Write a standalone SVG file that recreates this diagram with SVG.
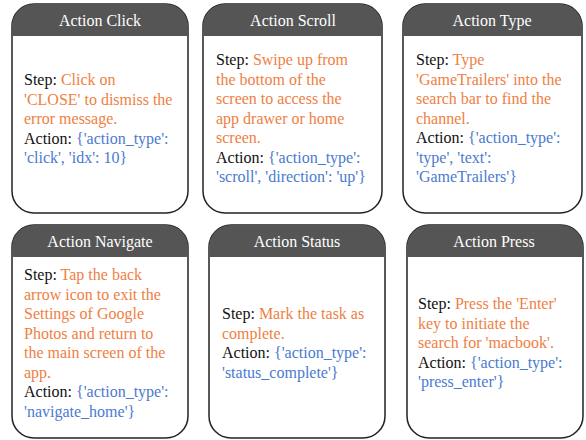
<svg xmlns="http://www.w3.org/2000/svg" width="586" height="440" viewBox="0 0 586 440">
<style>
.card{fill:#fff;stroke:#222;stroke-width:1.5}
.hdr{fill:#555}
.ttl{font-family:"Liberation Serif",serif;font-size:16px;fill:#fff;text-anchor:middle}
.body{font-family:"Liberation Serif",serif;font-size:16px}
.k{fill:#111}
.o{fill:#EF8043}
.b{fill:#4A7BD0}
</style>
<rect width="586" height="440" fill="#fff"/>
<g id="connectors"></g>
<g id="node-click">
<rect class="card" x="12" y="4" width="176" height="209" rx="22"/>
<path class="hdr" d="M12 36 V26 A22 22 0 0 1 34 4 H166 A22 22 0 0 1 188 26 V36 Z"/>
<text class="ttl" x="100" y="26">Action Click</text>
<text class="body" x="24" y="85"><tspan class="k">Step: </tspan><tspan class="o">Click on</tspan><tspan class="o" x="24" dy="19.5">'CLOSE' to dismiss the</tspan><tspan class="o" x="24" dy="19.5">error message.</tspan><tspan class="k" x="24" dy="19.5">Action: </tspan><tspan class="b">{'action_type':</tspan><tspan class="b" x="24" dy="19.5">'click', 'idx': 10}</tspan></text>
</g>
<g id="node-scroll">
<rect class="card" x="203" y="4" width="179" height="209" rx="22"/>
<path class="hdr" d="M203 36 V26 A22 22 0 0 1 225 4 H360 A22 22 0 0 1 382 26 V36 Z"/>
<text class="ttl" x="293" y="26">Action Scroll</text>
<text class="body" x="216" y="65"><tspan class="k">Step: </tspan><tspan class="o">Swipe up from</tspan><tspan class="o" x="216" dy="19.5">the bottom of the</tspan><tspan class="o" x="216" dy="19.5">screen to access the</tspan><tspan class="o" x="216" dy="19.5">app drawer or home</tspan><tspan class="o" x="216" dy="19.5">screen.</tspan><tspan class="k" x="216" dy="19.5">Action: </tspan><tspan class="b">{'action_type':</tspan><tspan class="b" x="216" dy="19.5">'scroll', 'direction': 'up'}</tspan></text>
</g>
<g id="node-type">
<rect class="card" x="403" y="4" width="179" height="209" rx="22"/>
<path class="hdr" d="M403 36 V26 A22 22 0 0 1 425 4 H560 A22 22 0 0 1 582 26 V36 Z"/>
<text class="ttl" x="492" y="26">Action Type</text>
<text class="body" x="416" y="65"><tspan class="k">Step: </tspan><tspan class="o">Type</tspan><tspan class="o" x="416" dy="19.5">'GameTrailers' into the</tspan><tspan class="o" x="416" dy="19.5">search bar to find the</tspan><tspan class="o" x="416" dy="19.5">channel.</tspan><tspan class="k" x="416" dy="19.5">Action: </tspan><tspan class="b">{'action_type':</tspan><tspan class="b" x="416" dy="19.5">'type', 'text':</tspan><tspan class="b" x="416" dy="19.5">'GameTrailers'}</tspan></text>
</g>
<g id="node-navigate">
<rect class="card" x="12" y="225" width="176" height="213" rx="22"/>
<path class="hdr" d="M12 257 V247 A22 22 0 0 1 34 225 H166 A22 22 0 0 1 188 247 V257 Z"/>
<text class="ttl" x="100" y="247">Action Navigate</text>
<text class="body" x="24" y="280"><tspan class="k">Step: </tspan><tspan class="o">Tap the back</tspan><tspan class="o" x="24" dy="19.5">arrow icon to exit the</tspan><tspan class="o" x="24" dy="19.5">Settings of Google</tspan><tspan class="o" x="24" dy="19.5">Photos and return to</tspan><tspan class="o" x="24" dy="19.5">the main screen of the</tspan><tspan class="o" x="24" dy="19.5">app.</tspan><tspan class="k" x="24" dy="19.5">Action: </tspan><tspan class="b">{'action_type':</tspan><tspan class="b" x="24" dy="19.5">'navigate_home'}</tspan></text>
</g>
<g id="node-status">
<rect class="card" x="209" y="225" width="176" height="213" rx="22"/>
<path class="hdr" d="M209 257 V247 A22 22 0 0 1 231 225 H363 A22 22 0 0 1 385 247 V257 Z"/>
<text class="ttl" x="297" y="247">Action Status</text>
<text class="body" x="222" y="319"><tspan class="k">Step: </tspan><tspan class="o">Mark the task as</tspan><tspan class="o" x="222" dy="19.5">complete.</tspan><tspan class="k" x="222" dy="19.5">Action: </tspan><tspan class="b">{'action_type':</tspan><tspan class="b" x="222" dy="19.5">'status_complete'}</tspan></text>
</g>
<g id="node-press">
<rect class="card" x="407" y="225" width="176" height="213" rx="22"/>
<path class="hdr" d="M407 257 V247 A22 22 0 0 1 429 225 H561 A22 22 0 0 1 583 247 V257 Z"/>
<text class="ttl" x="494" y="247">Action Press</text>
<text class="body" x="418" y="309"><tspan class="k">Step: </tspan><tspan class="o">Press the 'Enter'</tspan><tspan class="o" x="418" dy="19.5">key to initiate the</tspan><tspan class="o" x="418" dy="19.5">search for 'macbook'.</tspan><tspan class="k" x="418" dy="19.5">Action: </tspan><tspan class="b">{'action_type':</tspan><tspan class="b" x="418" dy="19.5">'press_enter'}</tspan></text>
</g>
</svg>
